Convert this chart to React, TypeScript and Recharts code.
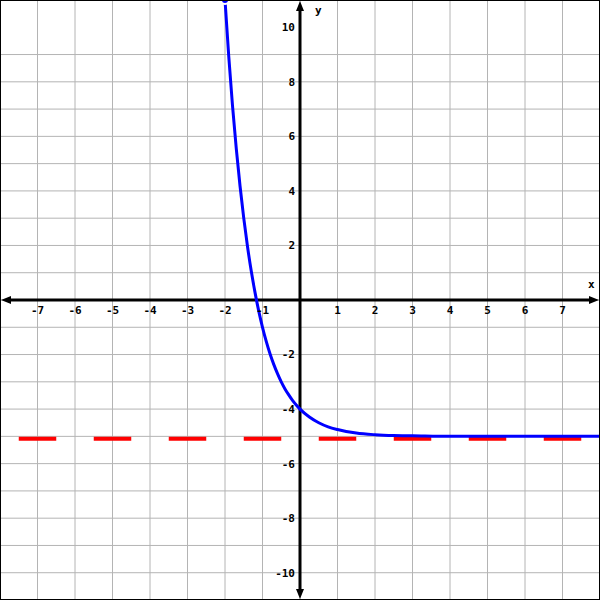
import { CartesianGrid, Line, LineChart, ReferenceDot, ReferenceLine, XAxis, YAxis } from 'recharts';

// grid / tick values
const xGrid = [-8, -7, -6, -5, -4, -3, -2, -1, 0, 1, 2, 3, 4, 5, 6, 7, 8];
const yGrid = [-11, -10, -9, -8, -7, -6, -5, -4, -3, -2, -1, 0, 1, 2, 3, 4, 5, 6, 7, 8, 9, 10, 11];
const xLabels = [-7, -6, -5, -4, -3, -2, -1, 1, 2, 3, 4, 5, 6, 7];
const yLabels = [10, 8, 6, 4, 2, -2, -4, -6, -8, -10];

// curve
const curveX = [-2, -1.9, -1.8, -1.7, -1.6, -1.5, -1.4, -1.3, -1.2, -1.1, -1, -0.9, -0.8, -0.7, -0.6, -0.5, -0.4, -0.3, -0.2, -0.1, 0, 0.25, 0.5, 0.75, 1, 1.5, 2, 2.5, 3, 4, 5, 6, 7, 8];
const curveY = [11, 8.93, 7.13, 5.56, 4.19, 3, 1.96, 1.06, 0.28, -0.41, -1, -1.52, -1.97, -2.36, -2.7, -3, -3.26, -3.48, -3.68, -3.85, -4, -4.29, -4.5, -4.65, -4.75, -4.88, -4.94, -4.97, -4.98, -5, -5, -5, -5, -5];

// dashed asymptote
const asymptoteY = -5;
const asymptoteFrom = -7.5;
const asymptoteTo = 7.5;

const data = curveX.map((x, i) => ({ x, y: curveY[i] }));

const font = { fontFamily: 'DejaVu Sans Mono', fontWeight: 'bold', fontSize: 11, fill: '#000' };

function ArrowAxis(props: any) {
  const { x1, y1, x2, y2 } = props;
  const len = Math.hypot(x2 - x1, y2 - y1) || 1;
  const ux = (x2 - x1) / len;
  const uy = (y2 - y1) / len;
  const head = (tx: number, ty: number, dx: number, dy: number) => {
    const bx = tx - dx * 10;
    const by = ty - dy * 10;
    return `${tx},${ty} ${bx - dy * 4},${by + dx * 4} ${bx + dy * 4},${by - dx * 4}`;
  };
  const sx = x1 + ux;
  const sy = y1 + uy;
  const ex = x2 - ux;
  const ey = y2 - uy;
  return (
    <g>
      <line x1={sx + ux * 5} y1={sy + uy * 5} x2={ex - ux * 5} y2={ey - uy * 5} stroke="#000" strokeWidth={3} />
      <polygon points={head(ex, ey, ux, uy)} fill="#000" />
      <polygon points={head(sx, sy, -ux, -uy)} fill="#000" />
    </g>
  );
}

// red band hangs just under the asymptote, like the original
function HangingDash(props: any) {
  const { x1, y1, x2, y2 } = props;
  return (
    <line x1={x1} y1={y1 + 2.5} x2={x2} y2={y2 + 2.5} stroke="#ff0000" strokeWidth={4} strokeDasharray="37.5 37.5" />
  );
}

export default function App() {
  return (
    <div style={{ position: 'absolute', left: 0, top: 0, width: 600, height: 600, background: '#fff' }}>
      <LineChart width={600} height={600} data={data} margin={{ top: 0, right: 0, bottom: 0, left: 0 }}>
        <XAxis dataKey="x" type="number" domain={[-8, 8]} ticks={xGrid} allowDataOverflow hide />
        <YAxis type="number" domain={[-11, 11]} ticks={yGrid} allowDataOverflow hide />
        <CartesianGrid stroke="#b4b4b4" strokeWidth={1} />
        <ReferenceLine y={0} shape={ArrowAxis} />
        <ReferenceLine x={0} shape={ArrowAxis} />
        <ReferenceLine
          segment={[
            { x: asymptoteFrom, y: asymptoteY },
            { x: asymptoteTo, y: asymptoteY },
          ]}
          shape={HangingDash}
        />
        <Line
          dataKey="y"
          type="monotone"
          stroke="#0000ff"
          strokeWidth={3}
          strokeLinecap="butt"
          dot={false}
          isAnimationActive={false}
        />
        {xLabels.map((v) => (
          <ReferenceDot key={`x${v}`} x={v} y={0} r={0} stroke="none" fill="none"
            label={{ value: String(v), position: 'bottom', offset: 6, ...font }} />
        ))}
        {yLabels.map((v) => (
          <ReferenceDot key={`y${v}`} x={0} y={v} r={0} stroke="none" fill="none"
            label={{ value: String(v), position: 'left', offset: 5, ...font }} />
        ))}
        <ReferenceDot x={7.77} y={0.6} r={0} stroke="none" fill="none" label={{ value: 'x', position: 'center', ...font }} />
        <ReferenceDot x={0.49} y={10.63} r={0} stroke="none" fill="none" label={{ value: 'y', position: 'center', ...font }} />
      </LineChart>
      <div style={{ position: 'absolute', left: 0, top: 0, width: 598, height: 598, border: '1px solid #000', pointerEvents: 'none' }} />
    </div>
  );
}
